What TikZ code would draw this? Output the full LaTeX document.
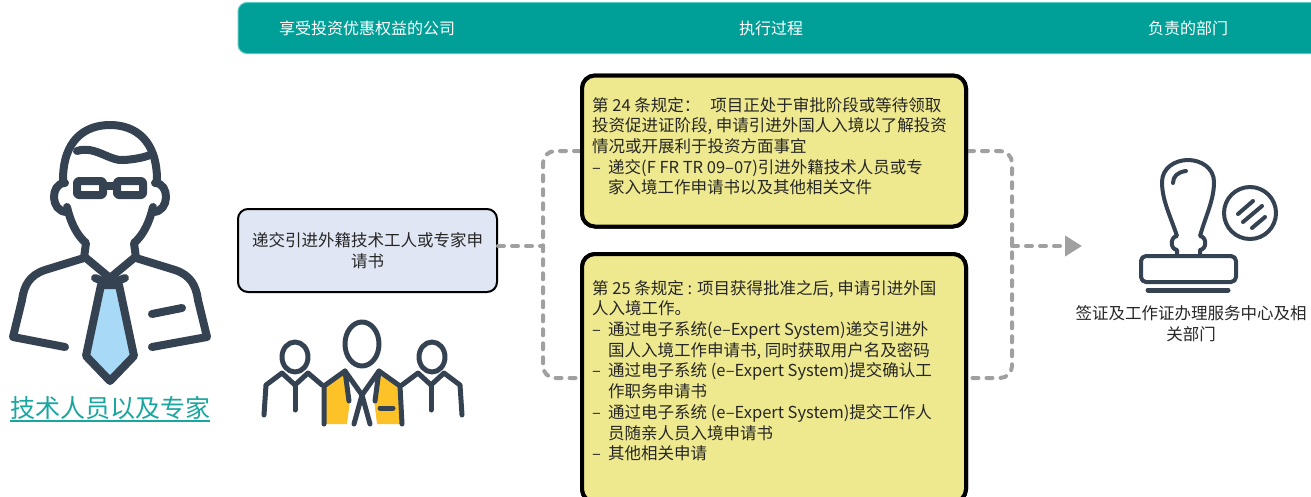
\documentclass[tikz,border=0pt]{standalone}
\usepackage{fontspec}
\setmainfont{Noto Sans CJK SC}
\usetikzlibrary{arrows.meta}
\definecolor{hdrteal}{RGB}{0,160,152}
\definecolor{lineteal}{RGB}{90,200,195}
\definecolor{linegray}{RGB}{160,160,160}
\definecolor{boxyellow}{RGB}{238,233,143}
\definecolor{boxblue}{RGB}{225,230,244}
\definecolor{icodark}{RGB}{53,66,82}
\definecolor{tieblue}{RGB}{168,218,248}
\definecolor{vestyellow}{RGB}{252,194,40}
\definecolor{lblteal}{RGB}{26,166,160}
\newcommand\dsh{\hbox to 16pt{–\hfil}}
\newcommand\ind{\hbox to 16pt{}}
\newcommand\ulbl[1]{\setbox0=\hbox{#1}\rlap{\rule[-4pt]{\wd0}{1.6pt}}\box0}
\begin{document}
\begin{tikzpicture}[x=1pt, y=-1pt,
    hdr/.style={text=white, font=\fontsize{16}{19}\selectfont},
    txt/.style={font=\fontsize{16.5}{20.7}\selectfont, text=black!85, inner sep=0pt, align=left},
    ybox/.style={draw=black, line width=4pt, fill=boxyellow, rounded corners=13pt, minimum width=384pt},
    dline/.style={draw=linegray, line width=4pt, dash pattern=on 6pt off 8pt, line cap=round},
    ico/.style={draw=icodark, line width=8pt, line cap=round, line join=round},
    grp/.style={draw=icodark, line width=5pt, line cap=round, line join=round},
    stp/.style={draw=icodark, line width=4pt, line cap=round, line join=round}]
\useasboundingbox (0,0) rectangle (1311,496);
\begin{scope}
\clip (0,0) rectangle (1311,496);
\filldraw[fill=hdrteal, draw=lineteal, line width=1pt, rounded corners=9pt] (238,2.5) rectangle (1340,53.5);
\node[hdr] (h1) at (367,28) {享受投资优惠权益的公司};
\node[hdr] (h2) at (771,28) {执行过程};
\node[hdr] (h3) at (1188,28) {负责的部门};

% technician
\draw[ico] (63,180) .. controls (63,140) and (85,125) .. (110,125) .. controls (135,125) and (157,140) .. (157,180);
\draw[ico] (77,151) .. controls (95,145) and (110,162) .. (125,160) .. controls (135,159) and (142,158) .. (150,155);
\draw[ico] (65,183) .. controls (50,183) and (50,212) .. (67,212);
\draw[ico] (155,183) .. controls (170,183) and (170,212) .. (153,212);
\draw[ico, rounded corners=2pt] (77,181) rectangle (103,195);
\draw[ico, rounded corners=2pt] (117,181) rectangle (143,195);
\draw[ico] (103,186) -- (117,186);
\draw[ico] (67,207) .. controls (72,228) and (80,238) .. (86,243) -- (84,258);
\draw[ico] (153,207) .. controls (148,228) and (140,238) .. (134,243) -- (136,258);
\draw[ico] (86,258) -- (110,278) -- (134,258);
\draw[ico] (84,258) -- (45,270) .. controls (30,275) and (24,285) .. (22,300) -- (13,337) -- (65,347);
\draw[ico] (136,258) -- (175,270) .. controls (190,275) and (196,285) .. (198,300) -- (207,337) -- (152,347);
\draw[ico] (152,314) -- (182,308);
\filldraw[ico, fill=tieblue] (101,285) -- (119,285) -- (134,356) -- (110,381) -- (86,356) -- cycle;
\draw[ico] (95,278) -- (110,284) -- (125,278);
\node[text=lblteal, font=\fontsize{25}{30}\selectfont, inner sep=0pt] (tech) at (110,409) {\ulbl{技术人员以及专家}};

% team
\fill[vestyellow] (324,386) -- (345,371) -- (350,400) -- (347,424) -- (324,424) -- cycle;
\fill[vestyellow] (400,386) -- (379,371) -- (374,400) -- (377,424) -- (400,424) -- cycle;
\draw[grp] (362,344) ellipse [x radius=17pt, y radius=22pt];
\draw[grp] (324,424) -- (324,386) -- (345,371) -- (362,395) -- (379,371) -- (400,386) -- (402,424);
\draw[grp] (345,371) -- (349,401);
\draw[grp] (379,371) -- (375,401);
\draw[grp] (362,395) -- (354,424);
\draw[grp] (362,395) -- (370,424);
\draw[grp] (380,408) -- (393,408);
\draw[grp] (295,357) ellipse [x radius=13pt, y radius=15pt];
\draw[grp] (264,415) -- (266,385) -- (282,373) -- (295,385) -- (308,373) -- (322,385);
\draw[grp] (295,385) -- (295,410);
\draw[grp] (432,357) ellipse [x radius=13pt, y radius=15pt];
\draw[grp] (402,385) -- (418,373) -- (431,385) -- (444,373) -- (460,385) -- (462,415);
\draw[grp] (431,385) -- (431,410);

% stamp
\draw[stp] (1177,256) -- (1177,250) .. controls (1170,249) and (1170,237) .. (1177,236)
  .. controls (1170,215) and (1162,200) .. (1162,182) .. controls (1162,168) and (1175,160) .. (1188,160)
  .. controls (1201,160) and (1214,168) .. (1214,182) .. controls (1214,200) and (1206,215) .. (1200,236)
  .. controls (1207,237) and (1207,249) .. (1200,250) -- (1200,256);
\draw[stp] (1173,183) .. controls (1173,176) and (1178,172) .. (1186,171);
\draw[stp, rounded corners=5pt] (1141,256) rectangle (1236,282);
\draw[stp, line width=5pt] (1148,290) -- (1228,290);
\draw[stp] (1250,213) circle [radius=26pt];
\draw[stp] (1238,214) -- (1253,201);
\draw[stp] (1243,222) -- (1262,206);
\draw[stp] (1252,228) -- (1265,217);
\node[txt, align=center] (dept) at (1191,324) {签证及工作证办理服务中心及相\\关部门};

% flow
\coordinate (j1) at (543,246);
\coordinate (j2) at (1012,246);
\coordinate (tip) at (1082,246);
\node[draw=black, line width=2pt, fill=boxblue, rounded corners=10pt, minimum width=259pt, minimum height=83pt,
  font=\fontsize{16.5}{20.7}\selectfont, align=center, text=black!85] (sub) at (367.5,250.5) {递交引进外籍技术工人或专家申\\请书};
\node[ybox, minimum height=151pt] (b1) at (774,151) {};
\node[ybox, minimum height=248pt] (b2) at (774,378) {};
\draw[dline] (sub.east |- j1) -- (j1);
\draw[dline, rounded corners=12pt] (b1.west) -| (j1) |- (b2.west);
\draw[dline, rounded corners=12pt] (b1.east) -| (j2) |- (b2.east);
\draw[dline, -{Triangle[length=17pt, width=20pt]}] (j2) -- (tip);
\node[ybox, minimum height=151pt] at (b1) {};
\node[ybox, minimum height=248pt] at (b2) {};
\node[txt, anchor=north west] (t1) at (592,97) {第 24 条规定：\hspace{0.6em}项目正处于审批阶段或等待领取\\
投资促进证阶段, 申请引进外国人入境以了解投资\\
情况或开展利于投资方面事宜\\
\dsh 递交(F FR TR 09–07)引进外籍技术人员或专\\
\ind 家入境工作申请书以及其他相关文件};
\node[txt, anchor=north west] (t2) at (592,280) {第 25 条规定 : 项目获得批准之后, 申请引进外国\\
人入境工作。\\
\dsh 通过电子系统(e–Expert System)递交引进外\\
\ind 国人入境工作申请书, 同时获取用户名及密码\\
\dsh 通过电子系统 (e–Expert System)提交确认工\\
\ind 作职务申请书\\
\dsh 通过电子系统 (e–Expert System)提交工作人\\
\ind 员随亲人员入境申请书\\
\dsh 其他相关申请};
\end{scope}
\end{tikzpicture}
\end{document}
